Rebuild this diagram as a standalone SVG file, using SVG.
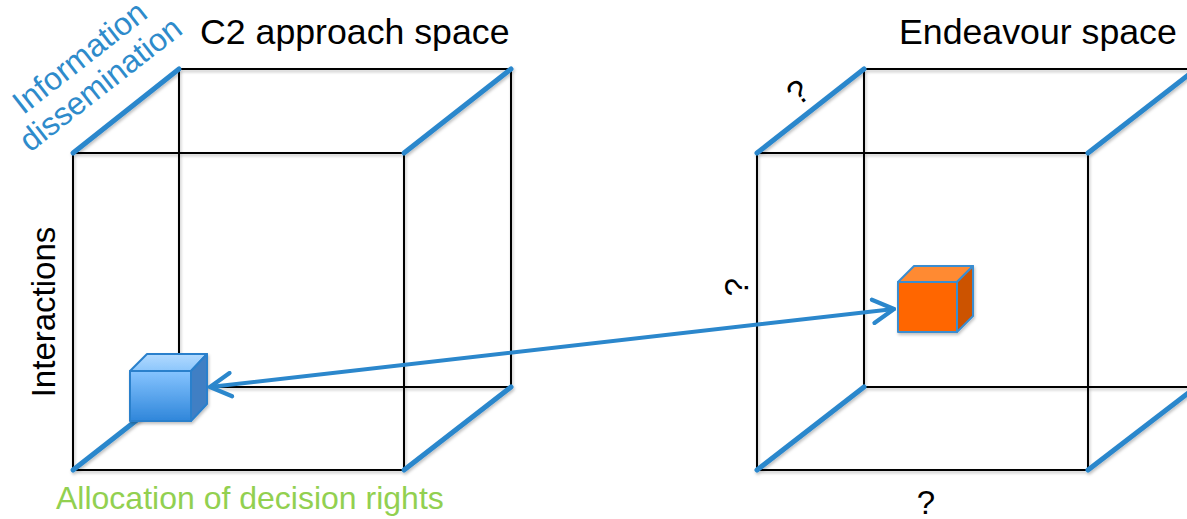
<svg xmlns="http://www.w3.org/2000/svg" width="1187" height="519" viewBox="0 0 1187 519">
<defs>
<style>
.edge{fill:none;stroke:#000;stroke-width:2;stroke-linecap:square}
.bl{fill:none;stroke:#2B87CC;stroke-width:5;stroke-linecap:round}
.t{font-family:"Liberation Sans",Arial,sans-serif;fill:#000}
</style>
<filter id="sh" x="-10%" y="-10%" width="130%" height="130%">
<feDropShadow dx="1" dy="2" stdDeviation="1.5" flood-color="#000" flood-opacity="0.25"/>
</filter>
<linearGradient id="bf" x1="0" y1="0" x2="0" y2="1">
<stop offset="0" stop-color="#86C4FF"/>
<stop offset="1" stop-color="#2F86DA"/>
</linearGradient>
<linearGradient id="bt" x1="0" y1="0" x2="0" y2="1">
<stop offset="0" stop-color="#B2DAFF"/>
<stop offset="1" stop-color="#8CC6FB"/>
</linearGradient>
<marker id="ah" viewBox="0 0 12 12" refX="10" refY="6" markerWidth="7" markerHeight="7" orient="auto-start-reverse" markerUnits="strokeWidth">
<path d="M1,1 L10,6 L1,11" fill="none" stroke="#2B87CC" stroke-width="1.8" stroke-linecap="round" stroke-linejoin="round"/>
</marker>
</defs>
<rect width="1187" height="519" fill="#fff"/>

<g id="c2-space" filter="url(#sh)">
<rect class="edge" x="179" y="69" width="332" height="318"/>
<rect class="edge" x="73" y="153" width="331" height="317"/>
<line class="bl" x1="73" y1="153" x2="179" y2="69"/>
<line class="bl" x1="404" y1="153" x2="511" y2="69"/>
<line class="bl" x1="73" y1="470" x2="179" y2="387"/>
<line class="bl" x1="404" y1="470" x2="511" y2="387"/>
</g>

<g id="endeavour-space" filter="url(#sh)">
<rect class="edge" x="864" y="69" width="332" height="318"/>
<rect class="edge" x="757" y="153" width="331" height="317"/>
<line class="bl" x1="757" y1="153" x2="864" y2="69"/>
<line class="bl" x1="1088" y1="153" x2="1196" y2="69"/>
<line class="bl" x1="757" y1="470" x2="864" y2="387"/>
<line class="bl" x1="1088" y1="470" x2="1196" y2="387"/>
</g>

<g id="blue-cube" filter="url(#sh)" stroke="#2A80CC" stroke-width="2" stroke-linejoin="round">
<path d="M130,371 L147,354 L207,354 L191,371 Z" fill="url(#bt)"/>
<path d="M191,371 L207,354 L207,404 L191,421 Z" fill="#3F7FC4"/>
<rect x="130" y="371" width="61" height="50" fill="url(#bf)"/>
</g>

<g id="orange-cube" filter="url(#sh)" stroke="#3A8DD0" stroke-width="2" stroke-linejoin="round">
<path d="M898,282 L914,266 L973,266 L957,282 Z" fill="#FF8A33"/>
<path d="M957,282 L973,266 L973,316 L957,332 Z" fill="#CC5200"/>
<rect x="898" y="282" width="59" height="50" fill="#FF6600"/>
</g>

<g id="connectors">
<line x1="210" y1="387" x2="894" y2="309" stroke="#2B87CC" stroke-width="4" stroke-linecap="round" marker-start="url(#ah)" marker-end="url(#ah)"/>
</g>

<g id="labels">
<text class="t" x="200" y="44" font-size="35.7">C2 approach space</text>
<text class="t" x="899" y="44" font-size="35.7">Endeavour space</text>
<text class="t" x="0" y="0" font-size="33" text-anchor="middle" transform="translate(55,312) rotate(-90)">Interactions</text>
<text class="t" x="0" y="0" font-size="32" style="fill:#92D050" transform="translate(56,509)">Allocation of decision rights</text>
<g transform="translate(30,153) rotate(-38)" font-family="Liberation Sans, Arial, sans-serif" font-size="32" fill="#2E8BCB">
<text x="18" y="-34">Information</text>
<text x="0" y="0">dissemination</text>
</g>
<text class="t" x="0" y="0" font-size="33" text-anchor="middle" transform="translate(805,101) rotate(-38)">?</text>
<text class="t" x="0" y="0" font-size="33" text-anchor="middle" transform="translate(748,287) rotate(-90)">?</text>
<text class="t" x="926" y="514" font-size="33" text-anchor="middle">?</text>
</g>
</svg>
